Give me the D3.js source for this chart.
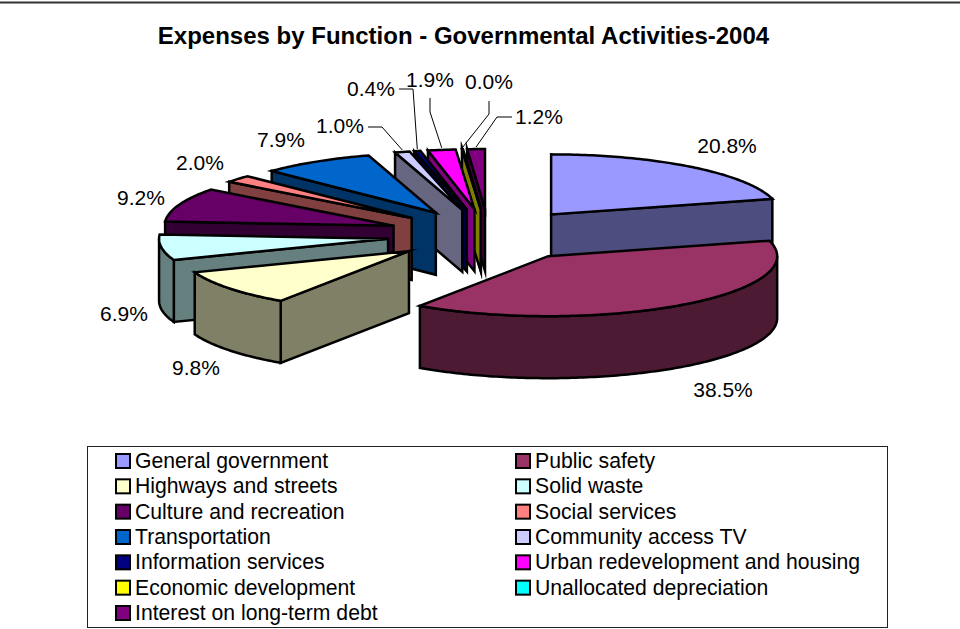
<!DOCTYPE html>
<html lang="en">

<head>
    <meta charset="UTF-8">
    <title>Expenses by Function</title>
    <style>
        body { margin: 0; background: #fff; }
        text { font-family: "Liberation Sans", Arial, sans-serif; fill: #000; }
    </style>
</head>

<body>
    <script src="https://d3js.org/d3.v7.min.js"></script>
    <script>
        // Data (labels are rounded, widths estimated from the slices)
        const categories = ["General government", "Public safety", "Highways and streets", "Solid waste",
            "Culture and recreation", "Social services", "Transportation", "Community access TV",
            "Information services", "Urban redevelopment and housing", "Economic development",
            "Unallocated depreciation", "Interest on long-term debt"];
        const shares = [20.75, 38.45, 9.75, 6.85, 9.15, 1.95, 7.94, 1.04, 0.44, 1.94, 0.02, 0.04, 1.24];
        const valueLabels = ["20.8%", "38.5%", "9.8%", "6.9%", "9.2%", "2.0%", "7.9%", "1.0%", "0.4%", "1.9%", "", "0.0%", "1.2%"];
        const topColors = ["#9999ff", "#993366", "#ffffcc", "#ccffff", "#660066", "#ff8080", "#0066cc",
            "#ccccff", "#000080", "#ff00ff", "#ffff00", "#00ffff", "#800080"];

        // Layout
        const width = 960; const height = 629;
        const cx = 489; const cy = 235;     // centre of the pie's top face
        const rx = 229; const ry = 60;      // ellipse of the top face
        const explodeX = 102; const explodeY = 26;
        const depth = 62;
        // label centre x, baseline y for each slice
        const labelSpots = [[727, 153], [723, 397], [196, 375], [124, 321], [141, 205], [200, 170], [281, 147],
            [340, 133], [371, 96], [430, 87], null, [489, 89], [539, 124]];
        // elbow of the leader line for the small slices
        const leaders = {
            7: [[368, 127], [382, 127]],
            8: [[399, 89], [413, 89]],
            9: [[430, 98], [430, 112]],
            11: [[489, 101], [489, 114]],
            12: [[512, 117], [497, 117]]
        };

        const svg = d3.select("body").append("svg")
            .attr("width", width)
            .attr("height", height)
            .style("display", "block");

        // frame rule at the top of the page
        svg.append("line").attr("x1", 0).attr("x2", width).attr("y1", 2.5).attr("y2", 2.5)
            .attr("stroke", "#333").attr("stroke-width", 2);

        svg.append("text")
            .attr("x", 463.5).attr("y", 44)
            .attr("text-anchor", "middle")
            .style("font-size", "24px")
            .style("font-weight", "bold")
            .text("Expenses by Function - Governmental Activities-2004");

        const pie = d3.pie().sort(null)(shares);

        // pie angles are clockwise from 12 o'clock, squash them onto the ellipse
        function rim(o, a, down) {
            return [o[0] + rx * Math.sin(a), o[1] - ry * Math.cos(a) + (down ? depth : 0)];
        }

        const line = d3.line();
        const TAU = Math.PI * 2;

        const slices = pie.map((d, i) => {
            const mid = (d.startAngle + d.endAngle) / 2;
            const o = [cx + explodeX * Math.sin(mid), cy - explodeY * Math.cos(mid)];
            return { i, o, a0: d.startAngle, a1: d.endAngle, mid };
        });

        function arcPoints(o, a0, a1, down) {
            const n = Math.max(2, Math.ceil((a1 - a0) * 60));
            return d3.range(n + 1).map(k => rim(o, a0 + (a1 - a0) * k / n, down));
        }

        function radialFace(s, a) {
            const p = rim(s.o, a, false);
            return line([s.o, p, [p[0], p[1] + depth], [s.o[0], s.o[1] + depth]]) + "Z";
        }

        function drawSlice(s) {
            const g = svg.append("g")
                .attr("stroke", "#000")
                .attr("stroke-width", 2.5)
                .attr("stroke-linejoin", "miter")
                .attr("stroke-miterlimit", 10);
            const side = d3.color(topColors[s.i]).darker(0);
            side.r /= 2; side.g /= 2; side.b /= 2;

            // start face shows on the left half, end face on the right half
            if (Math.sin(s.a1) > 0) g.append("path").attr("d", radialFace(s, s.a1)).attr("fill", side);
            if (Math.sin(s.a0) < 0) g.append("path").attr("d", radialFace(s, s.a0)).attr("fill", side);

            // outer wall, only the part facing the viewer
            const w0 = Math.max(s.a0, TAU / 4); const w1 = Math.min(s.a1, TAU * 3 / 4);
            if (w1 > w0) {
                const pts = arcPoints(s.o, w0, w1, false).concat(arcPoints(s.o, w0, w1, true).reverse());
                g.append("path").attr("d", line(pts) + "Z").attr("fill", side);
            }

            // top face
            const top = [s.o].concat(arcPoints(s.o, s.a0, s.a1, false));
            g.append("path").attr("d", line(top) + "Z").attr("fill", topColors[s.i]);
        }

        // back to front: general government, then the small slices round to highways, public safety last
        const order = [0].concat(d3.range(12, 1, -1), [1]);
        order.forEach(i => drawSlice(slices[i]));

        // leader lines
        Object.keys(leaders).forEach(k => {
            const s = slices[+k];
            const end = rim(s.o, s.mid, false);
            svg.append("path")
                .attr("d", line(leaders[k].concat([[end[0], end[1] - 2]])))
                .attr("fill", "none")
                .attr("stroke", "#000")
                .attr("stroke-width", 1);
        });

        // value labels
        valueLabels.forEach((t, i) => {
            if (!t) return;
            svg.append("text")
                .attr("x", labelSpots[i][0]).attr("y", labelSpots[i][1])
                .attr("text-anchor", "middle")
                .style("font-size", "21px")
                .text(t);
        });

        // legend, two columns filled row by row
        const rowCount = Math.ceil(categories.length / 2);
        const legendY = d3.scalePoint().domain(d3.range(rowCount)).range([461, 613]);
        const legendX = d3.scalePoint().domain([0, 1]).range([123, 523]);

        svg.append("rect")
            .attr("x", 87.5).attr("y", 446.5).attr("width", 800).attr("height", 181)
            .attr("fill", "#fff").attr("stroke", "#222").attr("stroke-width", 1);

        const entry = svg.selectAll("g.entry").data(categories).enter().append("g")
            .attr("class", "entry")
            .attr("transform", (d, i) => "translate(" + legendX(i % 2) + "," + legendY(Math.floor(i / 2)) + ")");
        entry.append("rect")
            .attr("x", -7).attr("y", -7).attr("width", 14).attr("height", 14)
            .attr("fill", (d, i) => topColors[i])
            .attr("stroke", "#000").attr("stroke-width", 2);
        entry.append("text")
            .attr("x", 12).attr("y", 7)
            .style("font-size", "21.2px")
            .text(d => d);
    </script>
</body>

</html>
